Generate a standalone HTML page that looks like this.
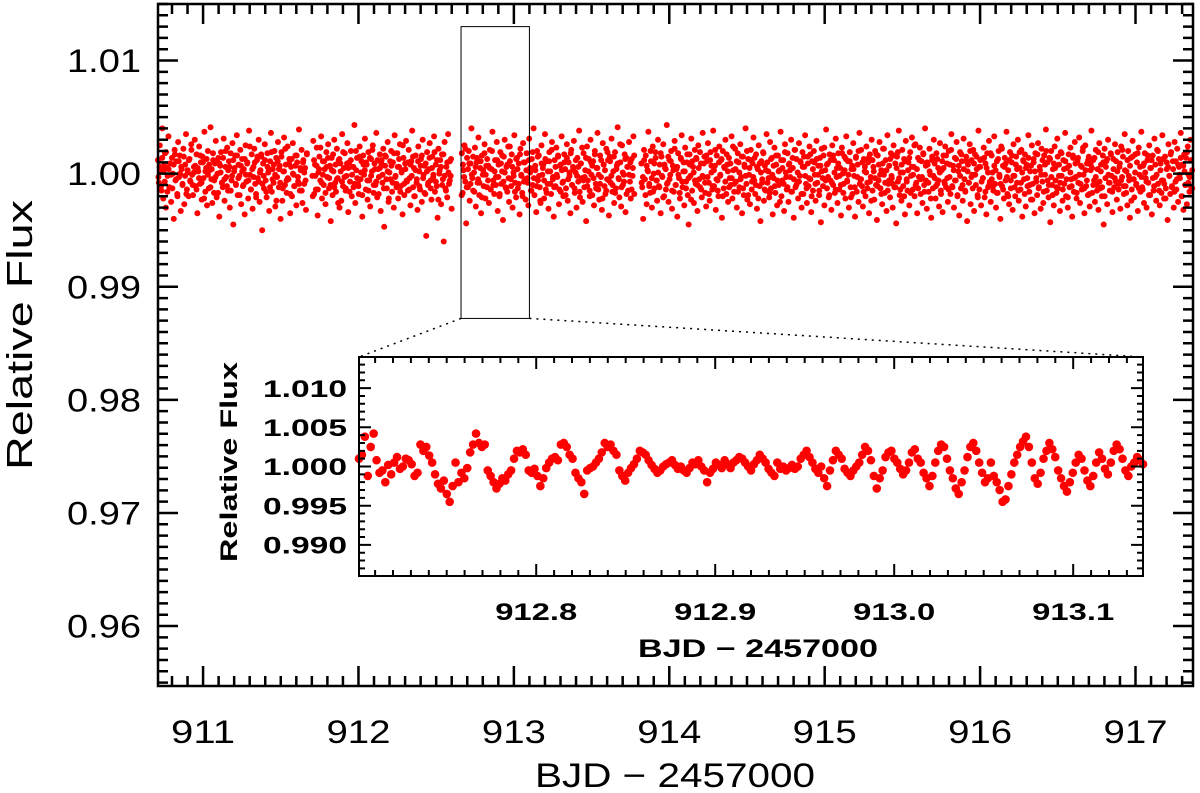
<!DOCTYPE html>
<html><head><meta charset="utf-8"><style>
html,body{margin:0;padding:0;background:#fff;}
svg{display:block;font-family:"Liberation Sans",sans-serif;}
</style></head><body>
<svg id="chart" width="1200" height="793" viewBox="0 0 1200 793">
<g id="main-points"></g>
<g id="main-axes"></g>
<rect x="0" y="0" width="0" height="0" id="zoom-rect" fill="none" stroke="#000" stroke-width="1"/>
<line id="conn1" stroke="#000" stroke-width="1.5" stroke-dasharray="2,5"/>
<line id="conn2" stroke="#000" stroke-width="1.5" stroke-dasharray="2,5"/>
<rect id="inset-bg" fill="#fff"/>
<g id="inset-points"></g>
<g id="inset-axes"></g>
<text x="675" y="787" font-size="34" text-anchor="middle" textLength="280" lengthAdjust="spacingAndGlyphs">BJD − 2457000</text>
<text transform="translate(32,335) rotate(-90)" font-size="36" text-anchor="middle" textLength="270" lengthAdjust="spacingAndGlyphs">Relative Flux</text>
<text x="758" y="657" font-size="25" font-weight="bold" text-anchor="middle" textLength="240" lengthAdjust="spacingAndGlyphs">BJD − 2457000</text>
<text transform="translate(237,462) rotate(-90)" font-size="24" font-weight="bold" text-anchor="middle" textLength="200" lengthAdjust="spacingAndGlyphs">Relative Flux</text>
</svg>
<script>
// ---- data ----
const mainStart = 910.71;
const mainEnd = 917.37;
const mainGaps = [[911.67, 911.70], [912.60, 912.66], [913.78, 913.82]];
const mainXTicks = [911, 912, 913, 914, 915, 916, 917];
const mainYTicks = [0.96, 0.97, 0.98, 0.99, 1.00, 1.01];
const mainYTickLabels = ["0.96", "0.97", "0.98", "0.99", "1.00", "1.01"];
// flux deviation in units of 1e-4 (odd cadences)
const mainFlux = [
12,-8,25,3,-15,40,-22,7,18,-30,5,-2,33,-12,9,-25,14,0,-40,21,-6,11,-18,28,-3,16,-33,4,-10,22,-27,8,35,-14,1,-20,13,-7,26,-1,
-19,6,30,-11,17,-35,2,24,-9,10,-23,15,-4,37,-16,5,-28,20,-13,3,41,-5,-26,12,-17,9,29,-21,0,14,-38,7,19,-8,-12,31,-24,6,-3,23,
-15,11,-30,18,-6,27,-45,2,16,-10,34,-19,8,-2,21,-27,13,-11,4,-36,25,-7,10,-22,38,-1,-14,17,-31,6,22,-9,-18,12,-4,30,-25,3,15,-50,
9,-13,26,-6,-21,18,1,-33,11,36,-16,4,-8,20,-29,14,-3,28,-12,7,-40,19,-24,2,32,-10,8,-17,24,-5,13,-35,6,-20,27,-1,-11,16,-28,10,
-7,39,-15,3,21,-26,12,-9,5,-32,17,-2,29,-18,8,-14,23,-37,1,15,-6,33,-22,11,-10,4,-27,19,-3,26,-13,7,-42,14,-19,2,30,-8,-16,22,
-4,12,-30,9,-24,35,-11,5,18,-15,-2,27,-34,10,-7,20,-20,6,-12,43,-26,3,14,-9,-18,24,-5,11,-38,16,-1,31,-14,8,-23,19,-6,-29,13,2,
25,-17,9,-10,36,-21,4,-3,17,-33,12,-8,22,-47,7,15,-13,28,-25,1,-5,20,-16,10,-30,34,-2,-9,18,-22,6,26,-11,3,-36,14,-19,9,29,-7,
-15,21,-4,-28,11,38,-12,5,-20,16,-8,-32,24,2,-14,13,-25,30,-1,7,-18,-55,19,-10,4,27,-6,-23,15,-3,33,-16,8,-11,-39,22,0,12,-27,17,
-5,-60,28,-13,6,-21,35,-9,11,-2,-31,18,-17,3,25,-7,-44,14,-12,20,-24,9,40,-4,-15,1,23,-29,10,-8,32,-19,5,-35,16,-1,-11,26,-22,7,
13,-6,-26,21,-14,4,37,-10,-18,12,-3,28,-33,8,-20,19,-9,2,-41,15,30,-12,6,-16,24,-25,11,-5,17,-30,1,34,-8,-21,14,-13,9,-36,22,-2,
-17,27,-7,10,-23,18,-4,-28,31,5,-15,13,-10,40,-19,3,-34,20,-6,16,-12,-26,25,-1,8,-22,35,-14,11,-9,-31,19,2,-18,28,-5,-38,12,-11,23,
-3,15,-27,7,-16,33,-8,-20,17,4,-13,26,-24,10,-2,-35,21,-10,6,29,-17,1,-30,14,-7,38,-21,9,-4,-25,18,-12,3,-42,24,-6,13,-15,30,-1,
-19,11,-28,20,-9,5,36,-14,-23,16,-3,-32,27,8,-11,-18,22,-5,12,-37,15,-8,31,-16,2,-26,19,-13,7,41,-4,-21,10,-29,25,-10,-1,17,-34,14,
6,-15,28,-7,-22,13,-2,33,-18,9,-12,-40,21,-5,16,-27,3,37,-9,-17,11,-30,24,0,-13,19,-6,-24,30,-11,8,-35,15,-3,26,-20,5,-14,43,-8,
-25,12,-1,20,-31,7,-16,29,-10,4,-38,18,-4,-22,14,34,-12,2,-28,23,-7,10,-19,-45,17,-2,31,-15,6,-26,21,-9,13,-33,25,-5,-12,9,-21,36,
-3,15,-17,-29,11,27,-8,-24,19,1,-14,38,-11,7,-32,16,-6,-20,24,-2,12,-39,20,-13,5,30,-18,8,-25,14,-4,-10,33,-22,3,-16,22,-7,-30,18,
10,-12,26,-3,-35,15,-19,6,40,-9,-23,13,-1,-27,21,-14,9,32,-6,-18,17,-31,4,25,-11,-42,11,-5,19,-24,7,-15,35,-8,2,-21,28,-13,14,-36,
-4,23,-17,8,-28,16,-10,3,37,-20,-6,12,-33,26,1,-14,18,-25,9,-3,30,-16,5,-39,21,-12,13,-7,-22,27,-2,10,-30,19,-18,6,34,-9,-26,15,
-11,24,-5,-34,11,-15,20,-1,-24,29,-8,7,-19,14,-43,22,-4,16,-28,3,39,-13,9,-21,17,-6,-32,25,-10,12,-17,31,-3,-26,18,-14,5,-37,23,0,
-9,15,-22,33,-7,11,-30,19,-12,4,-18,27,-2,-38,14,-16,8,-25,36,-5,21,-11,-29,13,2,-20,24,-8,10,-35,17,-3,30,-15,6,-23,20,-10,-41,
16,-6,28,-13,3,-27,22,-1,-17,12,-33,34,-9,7,-21,18,-4,-30,25,-12,9,-44,15,-7,38,-19,1,-24,21,-11,13,-36,29,-5,-15,10,-28,19,-2,32,
-14,6,-20,26,-8,-35,14,-3,23,-18,11,-26,17,-10,40,-6,-31,8,-16,22,-1,-39,12,-13,30,-4,-22,18,-9,5,-29,27,-15,3,-34,16,-7,24,-12,9,
-25,20,-3,-18,35,-11,7,-30,14,-6,28,-20,2,-37,19,-13,11,-24,31,-5,-16,15,-42,8,-8,26,-27,12,-1,21,-33,17,-10,4,-19,38,-14,6,-28,13,
-4,23,-21,9,-36,18,-12,29,-7,-25,16,1,-15,33,-9,-30,11,-17,20,-3,-40,24,-11,7,-22,14,-6,37,-18,3,-27,19,-13,10,-32,26,-2,-20,15,-8,
30,-24,5,-14,21,-38,12,-5,17,-29,8,-11,34,-16,2,-23,25,-9,13,-35,18,-4,-19,27,-12,6,-31,22,-7,-26,16,-1,39,-15,10,-21,14,-43,20,-10,
4,-28,24,-6,-17,31,-13,8,-33,19,-2,-24,12,-9,36,-20,5,-30,17,-12,23,-5,-38,14,-16,28,-3,-22,11,-8,32,-26,7,-14,20,-1,-35,25,-11,9,
-19,15,-29,3,38,-17,12,-6,-25,21,-10,4,-32,27,-13,8,-20,16,-45,22,-4,11,-27,30,-8,-15,18,-2,-34,13,-12,26,-7,-23,19,-9,6,-31,24,-3,
15,-18,35,-11,2,-28,20,-6,-39,14,-14,29,-5,-21,17,-10,10,-33,23,-1,-16,37,-12,7,-26,18,-4,-30,12,-8,25,-19,5,-36,16,-15,31,-3,-24,21,
-9,13,-28,9,-17,34,-6,-22,15,-13,4,-41,26,-2,-18,19,-11,11,-30,28,-7,-14,22,-25,6,-4,36,-20,8,-32,17,-10,14,-27,24,-1,-16,30,-12,3];
// flux deviation in units of 1e-4 (even cadences)
const mainFluxB = [
-3,6,-11,14,2,-7,19,-16,4,9,-1,-13,8,17,-5,-20,11,0,6,-9,15,-2,-18,3,12,-6,21,-10,1,7,-14,5,-4,16,-8,10,-22,2,13,-1,
8,-12,4,18,-6,-3,11,-17,9,1,-8,14,-5,20,-11,3,6,-15,-2,12,5,-9,16,-4,-19,7,2,-10,13,-1,9,-6,24,-14,4,-3,10,-21,15,-7,
1,17,-9,-2,12,-16,6,3,-12,19,-5,8,-1,-24,11,4,-8,15,-13,2,22,-6,-4,9,-18,13,0,-11,7,16,-3,-9,5,-15,10,1,-6,18,-20,12,
-2,7,-14,4,23,-8,-1,11,-17,6,14,-4,-10,3,17,-12,8,-5,-26,13,2,-7,19,-3,-13,9,5,-16,12,-1,6,-9,20,-4,-11,15,1,-19,8,3,
10,-6,-15,14,-2,21,-10,4,-7,12,-18,5,9,-1,-13,16,-5,2,-22,11,7,-8,18,-3,-12,6,13,-16,1,25,-9,4,-6,10,-14,8,-2,15,-20,3,
-5,11,-11,7,16,-4,-17,9,2,-8,14,-13,5,-1,19,-7,12,-23,3,6,-10,17,-2,-15,10,1,-6,13,-19,8,-3,22,-12,4,9,-9,-1,15,-16,6,
14,-5,-8,11,-21,3,18,-1,-12,7,5,-14,20,-6,2,-10,12,-3,-18,9,16,-7,1,-13,8,-4,24,-11,6,-2,-16,13,4,-9,17,-1,-20,10,-5,3,
-8,12,1,-15,19,-4,7,-11,15,-2,-24,9,5,-6,13,-17,2,11,-9,21,-3,-12,6,-1,16,-14,8,3,-7,10,-19,14,-5,1,18,-10,4,-13,12,-2,
6,-16,9,23,-6,-3,14,-11,2,-20,10,7,-4,17,-13,5,-1,-9,12,-22,8,3,-15,19,-6,11,-2,-10,15,-17,4,9,-5,26,-12,1,-7,13,-18,6,
-1,10,-14,5,16,-8,-3,12,-19,7,2,-11,20,-4,-16,9,14,-6,1,-12,18,-2,-21,8,4,-9,15,-5,11,-15,3,22,-10,6,-1,-17,13,-7,10,2,
-13,17,-4,8,-23,11,1,-6,14,-10,5,19,-14,-2,9,-8,16,-3,-18,12,7,-11,3,21,-5,-15,10,-1,13,-20,6,-7,17,2,-12,9,-4,24,-9,4,
11,-16,1,-5,15,-13,8,-2,20,-19,5,12,-7,-3,14,-10,6,-22,9,1,-8,18,-14,3,10,-4,-17,13,-1,7,-11,16,-6,2,-25,12,5,-9,19,-3,
-12,8,3,-16,14,-5,21,-10,1,-7,11,-18,6,15,-2,-13,9,-4,17,-20,4,10,-9,13,-1,-15,7,2,-11,23,-6,8,-3,-19,12,-8,16,1,-14,5,
9,-2,-10,18,-17,3,13,-6,-1,11,-21,7,4,-12,15,-3,20,-9,-5,10,-16,6,1,-13,14,-7,-24,12,2,-4,17,-11,8,-1,-18,9,22,-8,3,-15,
-6,13,-2,-9,16,-12,5,19,-4,-14,8,1,-20,11,-7,3,14,-17,6,-1,25,-10,4,-13,12,-5,-3,18,-16,7,10,-8,2,-22,15,-2,9,-11,13,-6,
1,-18,11,5,-9,16,-4,-14,8,21,-12,3,-6,13,-19,7,-2,17,-10,4,-15,11,2,-8,20,-3,-13,9,-1,15,-21,6,12,-7,-4,14,-16,5,1,-10,
18,-5,-11,7,3,-17,13,-1,-9,22,-14,6,9,-3,-20,12,-6,16,-2,-12,8,4,-15,19,-8,1,11,-18,5,-4,14,-10,7,-23,10,2,-7,17,-13,3,
-1,12,-16,8,20,-6,-10,13,-3,-19,9,5,-12,15,-2,-8,18,-14,4,11,-5,-21,7,1,-11,16,-4,9,-17,14,-1,-9,6,23,-13,3,-6,12,-18,8,
5,-10,14,-3,-15,19,-7,2,-12,10,-20,6,13,-1,-8,17,-16,4,-4,11,2,-14,9,-6,21,-11,3,-17,12,-2,7,-24,15,-5,1,-9,18,-13,6,-3,
-14,9,1,-7,16,-19,5,12,-4,-11,8,-1,20,-15,3,-6,13,-9,-22,10,6,-2,17,-12,4,-16,11,-5,8,-1,14,-20,7,2,-10,19,-8,-3,12,-13];
const inXTicks = [912.8, 912.9, 913.0, 913.1];
const inXTickLabels = ["912.8", "912.9", "913.0", "913.1"];
const inYTicks = [0.990, 0.995, 1.000, 1.005, 1.010];
const inYTickLabels = ["0.990", "0.995", "1.000", "1.005", "1.010"];
// flux deviation in units of 1e-4
const inFlux = [10,15,38,-12,25,42,8,-8,-5,-20,2,-10,5,12,-3,0,10,8,3,-12,-8,28,20,25,14,5,-10,-22,-28,-18,-35,-45,-25,5,-20,-8,-15,-2,18,28,42,30,25,28,-5,-12,-20,-28,-22,-15,-18,-10,-5,10,20,18,22,15,-5,-8,-3,-12,-25,-15,-2,5,10,12,8,28,30,25,15,10,-8,-15,-20,-35,-5,-2,0,5,10,18,30,25,28,20,15,-5,-12,-18,-8,-2,3,10,20,18,15,8,2,-3,-8,-5,0,3,5,8,2,-3,0,-5,-8,-2,5,3,8,0,-5,-20,-8,-3,5,2,-2,8,3,-2,5,8,12,10,5,0,-5,3,8,15,10,5,-3,-8,-12,5,-3,0,-5,-2,2,-3,0,10,15,20,12,5,-3,-8,0,-15,-25,-5,8,20,15,10,-3,-8,-12,-5,0,5,15,25,20,8,-12,-28,-15,-5,12,18,20,10,5,-3,-10,-5,5,18,22,10,5,-8,-15,-25,-12,5,20,28,25,10,-5,-15,-28,-35,-20,-5,12,25,30,20,5,-8,-20,-15,5,-12,-20,-30,-45,-42,-25,-10,5,15,25,32,38,25,5,-15,-22,-8,10,20,30,22,12,-5,-15,-25,-32,-20,-8,5,15,10,-5,-18,-25,-12,5,18,10,-3,-10,5,20,28,22,10,-5,-12,0,5,12,8,3];
const inStart = 912.701;
const inEnd = 913.139;
const zoomBox = {t0: 912.66, t1: 913.10, f0: 0.9872, f1: 1.013};

// ---- layout ----
const NS = "http://www.w3.org/2000/svg";
const M = {l:158, r:1193, t:4, b:686, x0:910.71, x1:917.37, y0:0.9547, y1:1.015};
const I = {l:359, r:1143, t:357, b:576, x0:912.701, x1:913.139, y0:0.98603, y1:1.01397};
function sx(P, v){ return P.l + (v - P.x0) / (P.x1 - P.x0) * (P.r - P.l); }
function sy(P, v){ return P.b - (v - P.y0) / (P.y1 - P.y0) * (P.b - P.t); }
function mk(tag, attrs, parent){ const e = document.createElementNS(NS, tag); for (const k in attrs) e.setAttribute(k, attrs[k]); parent.appendChild(e); return e; }

function axes(P, g, xt, xl, yt, yl, xmin, ymin, fs, lenMaj, lenMin, xlabY, ylabX, sw, xw, yw, fw){
  const f = mk("rect", {x:P.l, y:P.t, width:P.r-P.l, height:P.b-P.t, fill:"none", stroke:"#000", "stroke-width":sw}, g);
  
  
  let path = "";
  const nx0 = Math.ceil(P.x0 / xmin - 1e-6), nx1 = Math.floor(P.x1 / xmin + 1e-6);
  for (let n = nx0; n <= nx1; n++){
    const v = n * xmin; const x = sx(P, v);
    const maj = xt.some(t => Math.abs(t - v) < xmin / 4);
    const L = maj ? lenMaj : lenMin;
    path += `M${x},${P.b}v${-L}M${x},${P.t}v${L}`;
  }
  const ny0 = Math.ceil(P.y0 / ymin - 1e-6), ny1 = Math.floor(P.y1 / ymin + 1e-6);
  for (let n = ny0; n <= ny1; n++){
    const v = n * ymin; const y = sy(P, v);
    const maj = yt.some(t => Math.abs(t - v) < ymin / 4);
    const L = maj ? lenMaj : lenMin;
    path += `M${P.l},${y}h${L}M${P.r},${y}h${-L}`;
  }
  const tk = mk("path", {d:path, stroke:"#000", "stroke-width":sw, fill:"none"}, g);
  
  
  xt.forEach((v, i) => {
    const t = mk("text", {x:sx(P, v), y:xlabY, "font-size":fs, "font-weight":fw, "text-anchor":"middle", textLength:xw, lengthAdjust:"spacingAndGlyphs"}, g);
    t.textContent = xl[i];
    
    
  });
  yt.forEach((v, i) => {
    const t = mk("text", {x:ylabX, y:sy(P, v) + fs * 0.36, "font-size":fs, "font-weight":fw, "text-anchor":"end", textLength:yw, lengthAdjust:"spacingAndGlyphs"}, g);
    t.textContent = yl[i];
    
    
  });
}

// main points: two interleaved cadence series filling the time range
const mg = document.getElementById("main-points");
const gapTotal = mainGaps.reduce((s, g) => s + g[1] - g[0], 0);
const mainCadence = (mainEnd - mainStart - gapTotal) / mainFlux.length;
function plotMain(series, offset){
  let t = mainStart + offset;
  let k = 0;
  const cad = (mainEnd - mainStart - gapTotal) / series.length;
  while (k < series.length) {
    const gap = mainGaps.find(g => t >= g[0] && t < g[1]);
    if (gap) { t += gap[1] - gap[0]; continue; }
    const c = mk("circle", {cx:sx(M, t), cy:sy(M, 1 + series[k] * 1e-4), r:3.0, fill:"#ff0000"}, mg);
    
    
    t += cad;
    k++;
  }
}
plotMain(mainFlux, 0);
plotMain(mainFluxB, mainCadence / 2);
axes(M, document.getElementById("main-axes"), mainXTicks, mainXTicks.map(String), mainYTicks, mainYTickLabels, 0.1, 0.001, 32, 20, 10, 743, 141, 2.5, 64, 74, "normal");

// zoom box & connectors
const zr = document.getElementById("zoom-rect");
const zx0 = sx(M, zoomBox.t0), zx1 = sx(M, zoomBox.t1), zy0 = sy(M, zoomBox.f1), zy1 = sy(M, zoomBox.f0);
zr.setAttribute("x", zx0); zr.setAttribute("y", zy0); zr.setAttribute("width", zx1 - zx0); zr.setAttribute("height", zy1 - zy0);
const c1 = document.getElementById("conn1"), c2 = document.getElementById("conn2");
c1.setAttribute("x1", zx0); c1.setAttribute("y1", zy1); c1.setAttribute("x2", I.l); c1.setAttribute("y2", I.t);
c2.setAttribute("x1", zx1); c2.setAttribute("y1", zy1); c2.setAttribute("x2", I.r); c2.setAttribute("y2", I.t);
const ib = document.getElementById("inset-bg");
ib.setAttribute("x", I.l); ib.setAttribute("y", I.t); ib.setAttribute("width", I.r - I.l); ib.setAttribute("height", I.b - I.t);

// inset points
const ig = document.getElementById("inset-points");
const inCad = (inEnd - inStart) / (inFlux.length - 1);
inFlux.forEach((v, i) => {
  const c = mk("circle", {cx:sx(I, inStart + i * inCad), cy:sy(I, 1 + v * 1e-4), r:4.3, fill:"#ff0000"}, ig);
  
  
});
axes(I, document.getElementById("inset-axes"), inXTicks, inXTickLabels, inYTicks, inYTickLabels, 0.01, 0.001, 24, 12, 6, 620, 347, 2, 82, 84, "bold");
</script>
</body></html>
